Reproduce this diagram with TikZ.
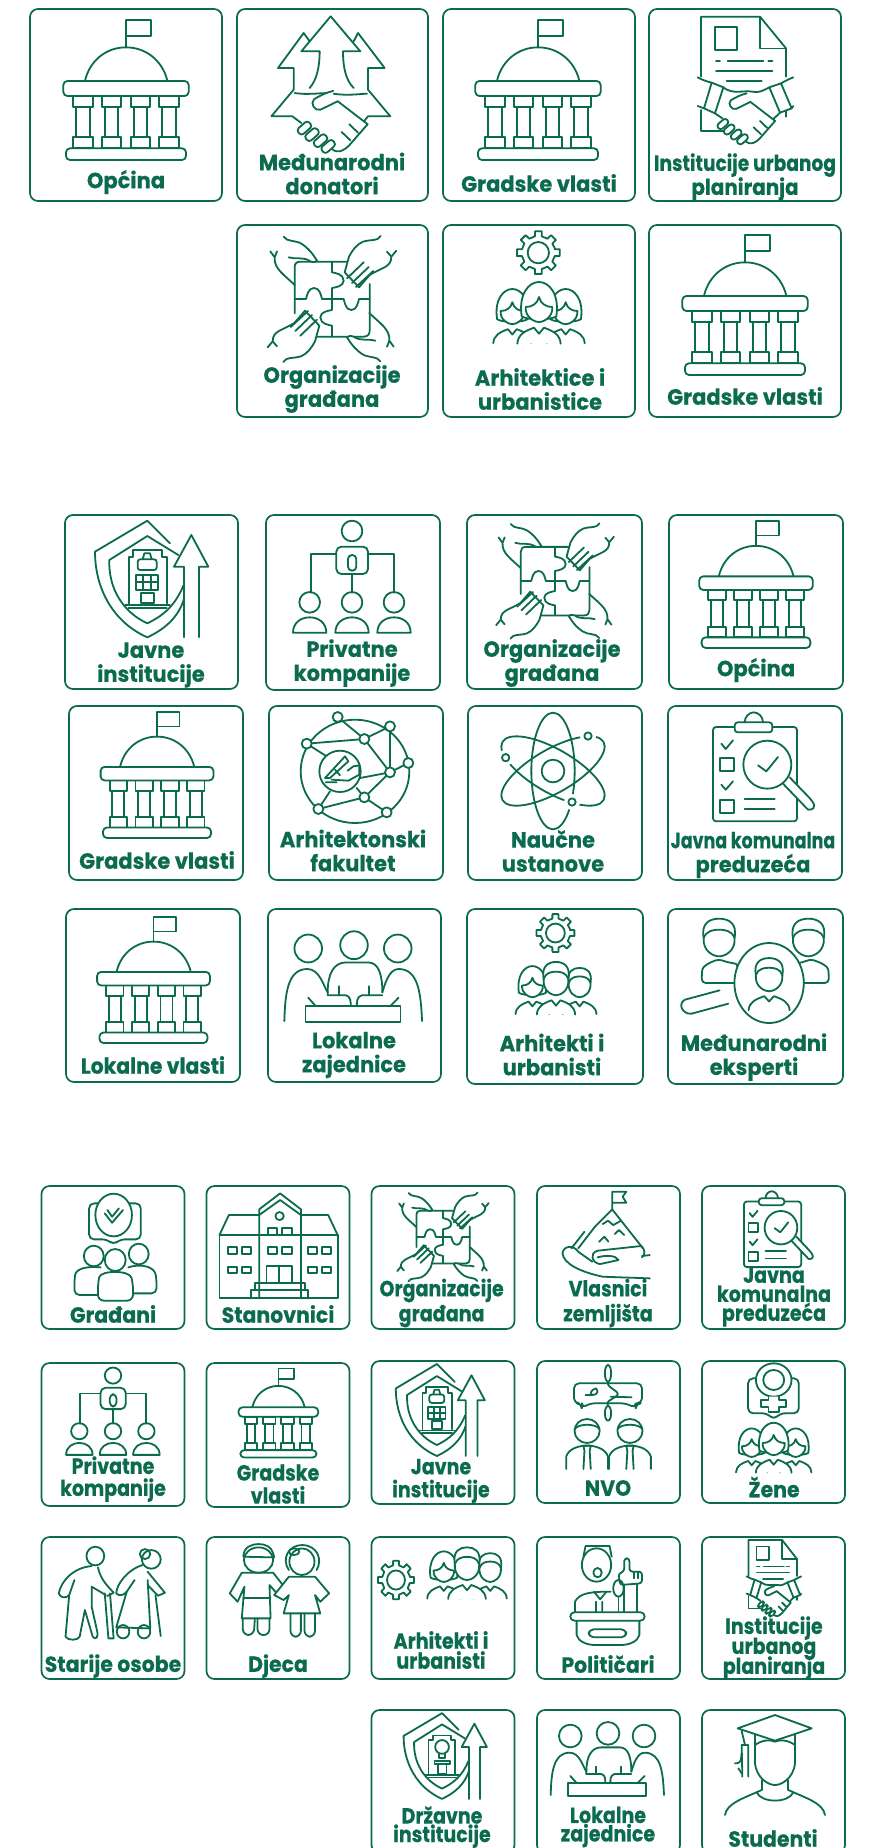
\documentclass[tikz,border=0pt]{standalone}
\usepackage{fontspec}
\setmainfont{Poppins}[BoldFeatures={FakeBold=0.4}]
\definecolor{brand}{HTML}{0A6B4E}
\newcommand\tightlines{\lineskiplimit=-100pt\relax\lineskip=0pt\relax}
\tikzset{
  cardbox/.style={draw=brand,fill=white,line width=1.7pt,rounded corners=8pt,inner sep=0pt,outer sep=0pt},
  lbl/.style={text=brand,align=center,inner sep=0pt,transform shape,font=\bfseries\fontsize{22}{24}\selectfont\tightlines,xscale=.955,yshift=-2pt},
  lblc/.style={text=brand,align=center,inner sep=0pt,transform shape,font=\bfseries\fontsize{22}{24}\selectfont\tightlines,xscale=.93,yshift=-2pt},
  lbld/.style={text=brand,align=center,inner sep=0pt,transform shape,font=\bfseries\fontsize{22}{#1}\selectfont\tightlines,xscale=.865,yshift=-1pt}
}
\newcommand\cardat[5]{\node[cardbox,minimum width={(#4-#2)*1pt},minimum height={(#5-#3)*1pt}] (#1) at ({(#2+#4)/2},{(#3+#5)/2}) {};}
\newcommand\ico[5]{\begin{scope}[shift={(#2,#3)},xscale=#4,yscale=#5]#1\end{scope}}
\newcommand\lab[5][]{\node[#2,#1] (#3) at (#4) {#5};}
% ---------- government building
\newcommand\domeicon{%
  \draw (0,-130)--(0,-210) (0,-210) rectangle (75,-162);
  \draw (-123,-28) .. controls (-108,-90) and (-58,-128) .. (0,-128) .. controls (58,-128) and (109,-90) .. (124,-28);
  \draw[rounded corners=4pt] (-188,-27) rectangle (188,18);
  \foreach \cx in {-129,-43,43,129}{
    \draw (\cx-29,18) rectangle (\cx+29,52);
    \draw (\cx-20,52)--(\cx-20,140) (\cx+20,52)--(\cx+20,140);
    \draw (\cx-29,140) rectangle (\cx+29,175);
  }
  \draw[rounded corners=4pt] (-180,175) rectangle (180,210);
}
% ---------- handshake
\newcommand\handshake{%
  \draw[fill=white] (3,-82) .. controls (-15,-78) and (-35,-68) .. (-47,-60) .. controls (-58,-50) and (-45,-28) .. (-30,-33) -- (15,-55) -- (93,5) -- (45,60) .. controls (30,75) and (15,82) .. (0,70);
  \draw (45,5)--(68,27) (25,25)--(48,47);
  \foreach \px/\py in {-72/15,-52/32,-30/48,-10/63}{
    \draw[fill=white,rounded corners=3pt] (\px+21,\py-5)--(\px+8,\py-20)--(\px-21,\py+5)--(\px-8,\py+20)--cycle;
  }
}
\newcommand\donoricon{%
  \draw (-67,15) .. controls (-45,-10) and (-37,-50) .. (-37,-95) -- (-92,-95) -- (-4,-200) -- (85,-95) -- (33,-95) .. controls (33,-50) and (40,-10) .. (65,15);
  \draw (-67,-125) -- (-85,-150) -- (-162,-45) -- (-115,-45) -- (-115,20) -- (-182,100) -- (-119,100) -- (-92,120);
  \draw (65,-125) -- (78,-150) -- (158,-45) -- (108,-45) -- (108,20) -- (175,100) -- (108,100) -- (91,122);
  \draw (-112,30) .. controls (-60,38) and (-20,25) .. (10,33) .. controls (50,38) and (80,33) .. (105,32);
  \begin{scope}[shift={(0,118)},scale=1.15]\handshake\end{scope}
}
\newcommand\dochandicon{%
  \draw (-129,-10) -- (-129,-190) -- (48,-190) -- (126,-95) -- (126,-10);
  \draw[line width=1.5pt] (48,-190)--(48,-95)--(126,-95);
  \draw (-87,-158) rectangle (-20,-90);
  \draw (-84,-58)--(-72,-58) (-49,-58)--(58,-58) (73,-58)--(85,-58) (-84,-28)--(85,-28) (-52,3)--(53,3);
  \draw (-129,90)--(-129,152)--(-60,152) (126,90)--(126,110);
  \draw (-139,-8) .. controls (-125,0) and (-110,5) .. (-97,8) (148,-8) .. controls (135,-3) and (120,5) .. (111,10);
  \draw (-62,22) .. controls (-35,45) and (0,30) .. (25,35) .. controls (45,40) and (60,30) .. (76,22);
  \draw (-139,78)--(-120,85) (-87,100)--(-65,115) (148,78)--(143,85) (108,98)--(85,120);
  \draw[fill=white] (-97,8)--(-62,22)--(-87,100)--(-120,85)--cycle;
  \draw[fill=white] (76,22)--(111,10)--(143,85)--(108,98)--cycle;
  \begin{scope}[shift={(5,118)},scale=.95]\handshake\end{scope}
}
% ---------- puzzle
\newcommand\puzzlehands{%
  \draw[fill=white] (146,-189) .. controls (135,-172) and (120,-180) .. (93,-172) .. controls (75,-165) and (60,-145) .. (51,-127) -- (38,-80) -- (81,-35) -- (113,-72) .. controls (150,-95) and (178,-95) .. (178,-127) -- (193,-145);
  \draw (178,-127)--(165,-142);
  \draw (45,-62)--(95,-110) (60,-48)--(110,-96) (72,-36)--(124,-84);
  \draw[fill=white] (-145,-187) .. controls (-135,-170) and (-110,-178) .. (-90,-165) .. controls (-75,-155) and (-60,-140) .. (-45,-115) .. controls (-50,-110) and (-55,-110) .. (-65,-113) .. controls (-85,-128) and (-110,-118) .. (-130,-125);
  \draw (-185,-143) -- (-172,-125) .. controls (-175,-90) and (-140,-70) .. (-112,-42) (-172,-125)--(-165,-143);
}
\newcommand\puzzleicon{%
  \draw (53,-112) -- (-95,-112) .. controls (-108,-112) and (-112,-105) .. (-112,-95) -- (-112,43);
  \draw (-53,113) -- (95,113) .. controls (108,113) and (113,105) .. (113,95) -- (113,-45);
  \draw (0,-112)--(0,-80) .. controls (10,-78) and (35,-75) .. (35,-55) .. controls (35,-38) and (10,-35) .. (0,-33) -- (0,33) .. controls (-10,35) and (-35,38) .. (-35,55) .. controls (-35,75) and (-10,78) .. (0,80) -- (0,113);
  \draw (-112,0) -- (-78,0) .. controls (-75,-10) and (-72,-33) .. (-54,-33) .. controls (-36,-33) and (-33,-10) .. (-30,0) -- (35,0) .. controls (38,10) and (41,33) .. (58,33) .. controls (75,33) and (78,10) .. (81,0) -- (113,0);
  \puzzlehands
  \begin{scope}[scale=-1]\puzzlehands\end{scope}
}
% ---------- people
\newcommand\gearicon{%
  \draw (0,0) circle [radius=32];
  \draw (-12:52) \foreach \a in {0,45,...,315}{ -- (\a-12:50) -- (\a-9:65) -- (\a+9:65) -- (\a+12:50) } -- cycle;
}
\newcommand\bodyshape{%
  \draw[fill=white] (-65,110) .. controls (-63,82) and (-42,72) .. (-15,62) -- (0,80) -- (15,62) .. controls (42,72) and (63,82) .. (65,110);
}
\newcommand\wbust{%
  \bodyshape
  \draw[fill=white] (-52,28) .. controls (-62,-40) and (-30,-75) .. (0,-75) .. controls (30,-75) and (62,-40) .. (52,28) .. controls (35,40) and (-35,40) .. (-52,28);
  \draw[fill=white] (-40,0) .. controls (-42,30) and (-15,45) .. (0,45) .. controls (15,45) and (42,30) .. (40,0) .. controls (20,0) and (5,-10) .. (0,-30) .. controls (-5,-10) and (-20,0) .. (-40,0);
}
\newcommand\mhead{%
  \draw[fill=white] (-42,-10) .. controls (-50,-55) and (-25,-68) .. (0,-68) .. controls (25,-68) and (50,-55) .. (42,-10) .. controls (45,30) and (15,45) .. (0,45) .. controls (-15,45) and (-45,30) .. (-42,-10);
  \draw (-42,-10) .. controls (-35,-32) and (-15,-35) .. (0,-35) .. controls (15,-35) and (35,-32) .. (42,-10);
}
\newcommand\mbust{\bodyshape\mhead}
\newcommand\womengroup{%
  \begin{scope}[shift={(-80,12)},scale=.88]\wbust\end{scope}
  \begin{scope}[shift={(80,12)},scale=.88]\wbust\end{scope}
  \wbust
}
\newcommand\mengroup{%
  \begin{scope}[shift={(-80,12)},scale=.88]\wbust\end{scope}
  \begin{scope}[shift={(80,12)},scale=.88]\mbust\end{scope}
  \mbust
}
\newcommand\womengearicon{\begin{scope}[shift={(-2,-163)}]\gearicon\end{scope}\womengroup}
\newcommand\mengearicon{\begin{scope}[shift={(-2,-166)}]\gearicon\end{scope}\mengroup}
% ---------- shield
\newcommand\shieldbase{%
  \draw (60,-107) -- (-8,-175) (-8,-175) -- (-165,-82) .. controls (-165,30) and (-110,130) .. (-8,175) .. controls (45,150) and (85,115) .. (102,60);
  \draw (85,-72) -- (-8,-129) -- (-122,-57) .. controls (-125,30) and (-80,100) .. (-8,133) .. controls (40,110) and (75,80) .. (100,20);
  \draw[fill=white] (102,175) -- (102,-37) -- (72,-37) -- (124,-132) -- (175,-37) -- (147,-37) -- (147,175);
  \draw[line width=1.4pt] (-75,78)--(60,78);
  \draw (-65,88)--(50,88);
}
\newcommand\shieldbuilding{%
  \shieldbase
  \draw (-63,73) -- (-63,-65) -- (-50,-65) -- (-50,-87) -- (35,-87) -- (35,-65) -- (50,-65) -- (50,73);
  \draw[rounded corners=2.5pt] (-37,-59) rectangle (20,-27);
  \draw (-22,-59) -- (-17,-77) -- (0,-77) -- (5,-59);
  \draw (-42,-12) rectangle (25,33) (-20,-12)--(-20,33) (3,-12)--(3,33) (-42,10)--(25,10);
  \draw (-28,43) rectangle (12,73);
}
\newcommand\shieldbulb{%
  \shieldbase
  \draw (-63,75) -- (-63,-65) -- (-45,-65) -- (-45,-84) -- (28,-84) -- (28,-65) -- (46,-65) -- (46,75);
  \draw (-8,-37) circle [radius=28];
  \draw (-20,-10)--(-20,8)--(4,8)--(4,-10);
  \draw (-39,20) rectangle (26,34) (-26,34) rectangle (10,75);
}
% ---------- org chart
\newcommand\orgicon{%
  \draw (0,-144) circle [radius=31];
  \draw[rounded corners=5pt] (-47,-97) rectangle (48,-15);
  \draw[rounded corners=4pt] (-12,-72) rectangle (13,-25);
  \draw (-47,-75)--(-124,-75)--(-124,41) (48,-75)--(126,-75)--(126,41) (0,-15)--(0,41);
  \foreach \px in {-127,0,126}{
    \draw (\px,70) circle [radius=31];
    \draw (\px-50,161) .. controls (\px-50,130) and (\px-25,115) .. (\px,115) .. controls (\px+25,115) and (\px+50,130) .. (\px+50,161) -- cycle;
  }
}
% ---------- network
\newcommand\neticon{%
  \draw (0,10) ellipse [x radius=163,y radius=155];
  \draw (-52,-153)--(28,-87)--(105,-125) (-145,-73)--(28,-87) (105,-125)--(105,13) (28,-87)--(105,13) (105,13)--(160,-15) (105,13)--(15,30) (-145,-73)--(-85,-35) (-110,123)--(-75,70) (-110,123)--(28,88) (28,88)--(95,133) (28,88)--(5,60) (28,88)--(105,13);
  \draw[fill=white] (-45,10) circle [radius=62];
  \foreach \px/\py in {-52/-153,105/-125,28/-87,-145/-73,160/-15,105/13,28/88,-110/123,95/133}{
    \draw[fill=white] (\px,\py) circle [radius=15];
  }
  \draw (-90,30) -- (-30,-35) -- (-20,-20) -- (-75,30) -- cycle;
  \draw (-70,35) -- (-20,38) -- (13,20) -- (13,-8) -- (-5,-5) -- (-22,8);
  \draw (-60,5)--(-45,22) (-88,43)--(-55,43);
}
% ---------- atom
\newcommand\atomicon{%
  \draw (0,0) ellipse [x radius=65,y radius=175];
  \draw[rotate=30] (0,0) ellipse [x radius=175,y radius=65];
  \draw[rotate=-30] (0,0) ellipse [x radius=175,y radius=65];
  \draw (0,0) circle [radius=34];
  \foreach \px/\py in {105/-105,-142/-40,57/93}{
    \fill[white] (\px,\py) circle [radius=24];
    \draw (\px,\py) circle [radius=11];
  }
}
% ---------- clipboard
\newcommand\clipicon{%
  \draw[rounded corners=3pt] (-150,-123) rectangle (102,160);
  \draw[fill=white,rounded corners=3pt] (-85,-137) rectangle (28,-107);
  \draw (-55,-137) .. controls (-55,-155) and (-40,-167) .. (-28,-167) .. controls (-15,-167) and (0,-155) .. (0,-137);
  \draw (-125,-73)--(-112,-57)--(-90,-83) (-125,50)--(-112,65)--(-90,40);
  \draw (-130,-30) rectangle (-87,10) (-130,95) rectangle (-87,135);
  \draw (-55,92)--(35,92) (-55,123)--(35,123);
  \draw[fill=white] (80,28) -- (135,85) .. controls (155,105) and (165,125) .. (135,125) -- (60,47);
  \draw[fill=white] (13,-10) circle [radius=72];
  \draw (-15,-8)--(10,10)--(45,-33);
}
% ---------- meeting table
\newcommand\tableicon{%
  \draw (-113,-72) circle [radius=34] (0,-80) circle [radius=34] (108,-72) circle [radius=34];
  \draw (-172,105) .. controls (-170,40) and (-165,-22) .. (-115,-22) .. controls (-85,-22) and (-75,20) .. (-65,35) -- (-65,42);
  \draw (168,105) .. controls (165,40) and (160,-22) .. (110,-22) .. controls (85,-22) and (75,20) .. (70,35);
  \draw (-65,35) .. controls (-65,-10) and (-50,-38) .. (-20,-38) -- (35,-38) .. controls (60,-38) and (70,-10) .. (70,35);
  \draw (-113,48)--(-95,68) (110,48)--(90,68);
  \draw (-65,42)--(-20,42) .. controls (-8,45) and (-8,58) .. (-8,68);
  \draw (70,42)--(20,42) .. controls (7,45) and (7,58) .. (7,68);
  \draw (-37,20)--(-37,42) (38,20)--(38,42);
  \draw (-120,68) rectangle (115,107);
}
% ---------- experts (raw scale of the second group)
\newcommand\experticon{\begin{scope}[shift={(-1400,-205)}]
  \draw[fill=white,rounded corners=4pt] (1278,250) -- (1278,222) .. controls (1280,198) and (1295,188) .. (1312,178) .. controls (1330,190) and (1345,190) .. (1350,205) -- (1350,250) -- cycle;
  \draw[fill=white,rounded corners=4pt] (1527,250) -- (1527,222) .. controls (1525,198) and (1510,188) .. (1490,178) .. controls (1475,190) and (1460,190) .. (1455,205) -- (1455,250) -- cycle;
  \begin{scope}[shift={(1312,125)},xscale=.72,yscale=1]\mhead\end{scope}
  \begin{scope}[shift={(1487,125)},xscale=.72,yscale=1]\mhead\end{scope}
  \draw[fill=white] (1313,272)--(1245,300) .. controls (1230,312) and (1240,345) .. (1258,342) -- (1330,312);
  \draw[fill=white] (1410,250) ellipse [x radius=68,y radius=120];
  \begin{scope}[shift={(1410,235)},xscale=.62,yscale=.88]\mbust\end{scope}
\end{scope}}
% ---------- third-group icons (raw zoom coordinates)
\newcommand\citizenicon{\begin{scope}[shift={(-158,-200)}]
  \draw[rounded corners=5pt] (113,70) -- (113,178) -- (148,178) -- (160,195) -- (172,178) -- (212,178) -- (212,70) -- cycle;
  \draw[fill=white] (160,105) ellipse [x radius=35,y radius=64];
  \draw (143,100)--(157,128)--(178,90) (148,90)--(157,110)--(170,85);
  \draw[rounded corners=5pt] (130,345) -- (85,345) -- (85,300) .. controls (88,265) and (110,258) .. (135,262);
  \draw[rounded corners=5pt] (197,340) -- (242,340) -- (242,300) .. controls (238,258) and (210,250) .. (188,262);
  \draw[fill=white] (122,228) ellipse [x radius=19,y radius=31];
  \draw[fill=white] (208,222) ellipse [x radius=19,y radius=31];
  \draw[fill=white,rounded corners=6pt] (130,362) -- (130,310) .. controls (135,270) and (190,270) .. (197,310) -- (197,362) -- cycle;
  \draw[fill=white] (163,240) ellipse [x radius=20,y radius=33];
\end{scope}}
\newcommand\schoolicon{\begin{scope}[shift={(-474,-200)}]
  \draw (362,355) rectangle (588,165);
  \draw (362,165)--(380,105)--(438,105) (518,105)--(570,105)--(588,165);
  \draw (438,355)--(438,88)--(478,40)--(518,88)--(518,355) (438,105)--(478,60)--(518,105);
  \draw (477,108) ellipse [x radius=8,y radius=12];
  \foreach \xa/\xb/\ya/\yb in {455/472/145/165,482/500/145/165,378/395/200/222,405/422/200/222,455/472/200/222,482/500/200/222,532/548/200/222,558/575/200/222,378/395/260/280,405/422/260/280,532/548/260/280,558/575/260/280}{
    \draw (\xa,\ya) rectangle (\xb,\yb);
  }
  \draw (452,308)--(452,258)--(500,258)--(500,308) (476,258)--(476,308);
  \draw (430,330)--(430,308)--(525,308)--(525,330);
  \draw (422,355)--(422,330)--(532,330)--(532,355);
\end{scope}}
\newcommand\landicon{\begin{scope}[shift={(-1105,-200)}]
  \draw (1113,88)--(1113,35)--(1140,35)--(1133,50)--(1140,68)--(1113,68);
  \draw (1113,88)--(1172,205);
  \draw (1113,88)--(1080,140)--(1048,205) (1060,155)--(1035,205);
  \draw (1095,132)--(1105,122)--(1115,135)--(1130,122);
  \draw (1088,185)--(1098,170)--(1106,185) (1118,162)--(1126,150)--(1136,165);
  \draw (1185,295)--(1095,290) .. controls (1050,275) and (1020,250) .. (1018,220) .. controls (1020,195) and (1040,195) .. (1048,215) -- (1075,245);
  \draw (1085,212) -- (1168,198) .. controls (1178,210) and (1175,225) .. (1170,232);
  \draw (1085,212) .. controls (1068,220) and (1075,250) .. (1090,252) -- (1125,240) .. controls (1120,225) and (1100,225) .. (1085,232);
  \draw (1170,228)--(1185,225);
\end{scope}}
\newcommand\nvoicon{\begin{scope}[shift={(-1105,-190)}]
  \draw[rounded corners=5pt] (1055,160) -- (1055,145) -- (1040,145) -- (1040,85) -- (1170,85) -- (1170,145) -- (1158,145) -- (1158,160) -- (1140,145) -- (1070,145) -- cycle;
  \draw[fill=white] (1105,55) ellipse [x radius=6,y radius=25];
  \draw[fill=white] (1105,175) ellipse [x radius=6,y radius=22];
  \draw (1105,80) .. controls (1100,100) and (1135,110) .. (1120,125) .. controls (1110,135) and (1100,140) .. (1105,152);
  \draw (1062,120) .. controls (1080,122) and (1090,118) .. (1082,100) .. controls (1072,105) and (1070,115) .. (1075,120);
  \draw (1110,125)--(1150,127);
  \foreach \px in {1065,1147}{
    \draw (\px-40,342) -- (\px-40,305) .. controls (\px-35,280) and (\px-15,272) .. (\px,272) .. controls (\px+15,272) and (\px+35,280) .. (\px+40,305) -- (\px+40,342);
    \draw (\px-7,272)--(\px+7,272)--(\px+5,288)--(\px+7,342) (\px-7,272)--(\px-5,288)--(\px-7,342);
    \draw[fill=white] (\px,228) ellipse [x radius=24,y radius=36];
    \draw (\px-24,222) .. controls (\px-15,205) and (\px+15,205) .. (\px+24,222);
  }
\end{scope}}
\newcommand\femaleicon{\begin{scope}[shift={(-1422,-130)}]
  \draw[rounded corners=5pt] (1373,70) -- (1373,175) -- (1410,175) -- (1422,195) -- (1434,175) -- (1470,175) -- (1470,70) -- cycle;
  \draw[fill=white] (1422,75) ellipse [x radius=34,y radius=50];
  \draw (1422,75) ellipse [x radius=20,y radius=30];
  \draw[fill=white] (1412,125)--(1412,135)--(1398,135)--(1398,155)--(1412,155)--(1412,172)--(1432,172)--(1432,155)--(1446,155)--(1446,135)--(1432,135)--(1432,125);
\end{scope}}
\newcommand\eldericon{\begin{scope}[shift={(-158,-170)}]
  \draw (125,78) ellipse [x radius=17,y radius=28];
  \draw (118,108) .. controls (85,112) and (60,150) .. (55,190) .. controls (58,205) and (70,205) .. (75,195) -- (68,320) .. controls (72,332) and (92,332) .. (95,320) -- (105,240) -- (120,320) .. controls (125,330) and (132,325) .. (128,300) -- (118,230) -- (118,170) -- (145,195);
  \draw (130,112) .. controls (135,150) and (150,170) .. (160,188) -- (148,198);
  \draw (75,195) -- (85,150);
  \draw (143,190) -- (150,325) -- (160,325) -- (153,190);
  \draw (232,88) ellipse [x radius=18,y radius=28];
  \draw (220,72) ellipse [x radius=10,y radius=15];
  \draw (215,105) .. controls (185,120) and (165,165) .. (165,190) .. controls (170,200) and (180,195) .. (185,185) -- (200,150);
  \draw (185,185) -- (165,292) -- (230,295) -- (225,150);
  \draw (225,125) -- (258,188) -- (245,197) -- (225,165);
  \draw (240,195) -- (250,318);
  \draw (178,305) ellipse [x radius=12,y radius=20] (218,305) ellipse [x radius=12,y radius=20];
\end{scope}}
\newcommand\kidsicon{\begin{scope}[shift={(-475,-170)}]
  \draw (437,90) ellipse [x radius=28,y radius=38];
  \draw (408,80) .. controls (408,50) and (425,42) .. (437,42) .. controls (450,42) and (462,50) .. (465,70) -- (467,82) -- (408,80);
  \draw (405,128) -- (465,128) -- (490,178) -- (475,195) -- (458,165) -- (460,265) -- (405,265) -- (410,170) -- (397,215) -- (382,190) -- cycle;
  \draw (408,205)--(460,205);
  \draw[rounded corners=6pt] (407,265) -- (407,315) -- (428,315) -- (430,265);
  \draw[rounded corners=6pt] (435,265) -- (435,315) -- (458,315) -- (458,265);
  \draw (520,95) ellipse [x radius=24,y radius=40];
  \draw (495,120) .. controls (480,85) and (495,45) .. (520,45) .. controls (550,45) and (560,90) .. (548,120);
  \draw (505,65) circle [radius=10];
  \draw[fill=white] (495,140) -- (545,140) -- (572,190) -- (555,215) -- (545,195) -- (555,250) -- (485,250) -- (495,195) -- (485,210) -- (467,195) -- cycle;
  \draw[rounded corners=6pt] (498,250) -- (498,320) -- (518,320) -- (518,250);
  \draw[rounded corners=6pt] (525,250) -- (525,320) -- (545,320) -- (545,250);
\end{scope}}
\newcommand\speakericon{\begin{scope}[shift={(-1105,-190)}]
  \draw (1083,105) ellipse [x radius=28,y radius=50];
  \draw (1058,80) -- (1062,48) -- (1108,48) -- (1112,80);
  \draw (1085,128) ellipse [x radius=8,y radius=14];
  \draw (1042,247) -- (1042,215) .. controls (1050,190) and (1070,185) .. (1110,185);
  \draw (1078,185)--(1090,208)--(1102,185) (1082,215)--(1082,247) (1094,215)--(1094,247);
  \draw (1125,175) ellipse [x radius=10,y radius=25];
  \draw (1125,200)--(1125,247);
  \draw[rounded corners=3pt] (1136,125) -- (1136,85) -- (1146,85) -- (1146,125) -- (1170,125) -- (1170,160) -- (1128,165) -- (1125,130) -- cycle;
  \draw (1155,125)--(1155,145) (1162,125)--(1162,145);
  \draw (1136,165)--(1136,247) (1160,162)--(1160,247);
  \draw[fill=white,rounded corners=4pt] (1033,247) rectangle (1175,272);
  \draw (1045,272) -- (1045,315) .. controls (1048,335) and (1065,345) .. (1080,345) -- (1130,345) .. controls (1145,345) and (1162,335) .. (1165,315) -- (1165,272);
  \draw[rounded corners=5pt] (1068,298) rectangle (1140,322);
\end{scope}}
\newcommand\studenticon{\begin{scope}[shift={(-1245,-195)}]
  \draw (1185,100) -- (1185,190) .. controls (1190,235) and (1225,255) .. (1245,255) .. controls (1265,255) and (1300,235) .. (1305,190) -- (1305,100);
  \draw (1185,135) .. controls (1205,120) and (1230,118) .. (1245,125) .. controls (1260,118) and (1285,120) .. (1305,135);
  \draw[fill=white] (1133,85) -- (1245,45) -- (1355,85) -- (1245,122) -- cycle;
  \draw (1145,93) -- (1155,135);
  \draw (1147,230) -- (1145,135) -- (1165,135) -- (1165,230);
  \draw (1145,160) .. controls (1142,180) and (1145,190) .. (1125,190);
  \draw (1135,205) -- (1145,220);
  \draw (1205,240)--(1205,270) (1285,240)--(1285,270);
  \draw (1095,345) .. controls (1100,310) and (1150,295) .. (1205,270) (1285,270) .. controls (1340,295) and (1390,310) .. (1395,345);
  \draw (1190,277) .. controls (1205,310) and (1285,310) .. (1300,277);
\end{scope}}
\begin{document}
\begin{tikzpicture}[x=1pt,y=-1pt,color=brand,line width=1.8pt,line cap=round,line join=round]
\fill[white] (0,0) rectangle (868,1848);
\useasboundingbox (0,0) rectangle (868,1848);
% cards, group 1
\cardat{a1}{30}{9}{222}{201}\cardat{a2}{237}{9}{428}{201}\cardat{a3}{443}{9}{635}{201}\cardat{a4}{649}{9}{841}{201}
\cardat{a5}{237}{225}{428}{417}\cardat{a6}{443}{225}{635}{417}\cardat{a7}{649}{225}{841}{417}
% cards, group 2
\cardat{b1}{65}{515}{238}{689}\cardat{b2}{266}{515}{440}{690}\cardat{b3}{467}{515}{642}{689}\cardat{b4}{669}{515}{843}{689}
\cardat{b5}{69}{706}{243}{880}\cardat{b6}{269}{706}{443}{880}\cardat{b7}{468}{706}{642}{880}\cardat{b8}{668}{706}{842}{880}
\cardat{b9}{66}{909}{240}{1082}\cardat{b10}{268}{909}{441}{1082}\cardat{b11}{467}{909}{643}{1084}\cardat{b12}{668}{909}{843}{1084}
% cards, group 3
\cardat{c1}{41.5}{1186}{184.5}{1329}\cardat{c2}{206.5}{1186}{349.5}{1329}\cardat{c3}{371.5}{1186}{514.5}{1329}\cardat{c4}{537}{1186}{680}{1329}\cardat{c5}{702}{1186}{845}{1329}
\cardat{c6}{41.5}{1363}{184.5}{1506}\cardat{c7}{206.5}{1363}{349.5}{1507}\cardat{c8}{371.5}{1361}{514.5}{1504}\cardat{c9}{537}{1361}{680}{1503}\cardat{c10}{702}{1361}{845}{1503}
\cardat{c11}{41.5}{1537}{184.5}{1679}\cardat{c12}{206.5}{1537}{349.5}{1679}\cardat{c13}{371.5}{1537}{514.5}{1679}\cardat{c14}{537}{1537}{680}{1679}\cardat{c15}{702}{1537}{845}{1679}
\cardat{c16}{371.5}{1710}{514.5}{1853}\cardat{c17}{537}{1710}{680}{1853}\cardat{c18}{702}{1710}{845}{1853}
% icons, group 1
\ico{\domeicon}{126}{90}{.3333}{.3333}
\ico{\donoricon}{332}{83}{.3333}{.3333}
\ico{\domeicon}{538}{90}{.3333}{.3333}
\ico{\dochandicon}{744}{80}{.3333}{.3333}
\ico{\puzzleicon}{332}{299}{.3333}{.3333}
\ico{\womengearicon}{539}{307}{.3333}{.3333}
\ico{\domeicon}{745}{305}{.3333}{.3333}
% icons, group 2
\ico{\shieldbuilding}{150}{579}{.3333}{.3333}
\ico{\orgicon}{352}{579}{.3333}{.3333}
\ico{\puzzleicon}{555}{581}{.305}{.305}
\ico{\domeicon}{756}{584.5}{.302}{.302}
\ico{\domeicon}{157}{775}{.30}{.30}
\ico{\neticon}{355}{768}{.3333}{.3333}
\ico{\atomicon}{553}{771}{.3333}{.3333}
\ico{\clipicon}{763}{768}{.3333}{.3333}
\ico{\domeicon}{153.5}{980}{.30}{.30}
\ico{\tableicon}{354}{978}{.405}{.41}
\ico{\mengearicon}{556}{982}{.295}{.295}
\ico{\experticon}{764}{968}{.51}{.3333}
% icons, group 3
\ico{\citizenicon}{112.6}{1246.7}{.523}{.3333}
\ico{\schoolicon}{278}{1246.7}{.523}{.3333}
\ico{\puzzleicon}{443}{1237}{.237}{.235}
\ico{\landicon}{608}{1246.7}{.523}{.3333}
\ico{\clipicon}{778}{1230}{.227}{.232}
\ico{\orgicon}{113}{1413}{.265}{.26}
\ico{\domeicon}{278.4}{1413}{.212}{.212}
\ico{\shieldbuilding}{439}{1410}{.262}{.263}
\ico{\nvoicon}{608}{1418.3}{.523}{.3333}
\ico{\femaleicon}{773.7}{1398.3}{.523}{.3333}
\ico{\womengroup}{773.7}{1443}{.275}{.27}
\ico{\eldericon}{112.6}{1586.7}{.523}{.3333}
\ico{\kidsicon}{278.4}{1586.7}{.523}{.3333}
\ico{\gearicon}{396}{1580}{.28}{.30}
\ico{\mengroup}{467}{1567}{.29}{.29}
\ico{\speakericon}{608}{1593.3}{.523}{.3333}
\ico{\dochandicon}{773}{1578}{.19}{.20}
\ico{\shieldbulb}{444}{1756}{.245}{.245}
\ico{\tableicon}{608}{1760}{.3333}{.3333}
\ico{\studenticon}{775}{1765}{.3333}{.3333}
% labels, group 1
\lab{lbl}{la1}{126,180}{Općina}
\lab{lbl}{la2}{332,171.5}{Međunarodni\\donatori}
\lab{lbl}{la3}{539,181}{Gradske vlasti}
\lab{lbl}{la4}{745,175}{\scalebox{.885}[1]{Institucije urbanog}\\\scalebox{.95}[1]{planiranja}}
\lab{lbl}{la5}{332,387}{Organizacije\\građana}
\lab{lbl}{la6}{540,387}{Arhitektice i\\urbanistice}
\lab{lbl}{la7}{745,394}{Gradske vlasti}
% labels, group 2
\lab{lbl}{lb1}{151,663}{Javne\\institucije}
\lab{lbl}{lb2}{352,661}{Privatne\\kompanije}
\lab{lbl}{lb3}{552,661}{Organizacije\\građana}
\lab{lbl}{lb4}{756,668}{Općina}
\lab{lbl}{lb5}{157,858}{Gradske vlasti}
\lab{lbl}{lb6}{353,848.5}{Arhitektonski\\fakultet}
\lab{lbl}{lb7}{553,849}{Naučne\\ustanove}
\lab{lbl}{lb8}{753,853}{\scalebox{.83}[1]{Javna komunalna}\\preduzeća}
\lab[xscale=.97]{lbl}{lb9}{153,1063}{Lokalne vlasti}
\lab{lbl}{lb10}{354,1053}{Lokalne\\zajednice}
\lab{lbl}{lb11}{552,1052.5}{Arhitekti i\\urbanisti}
\lab{lbl}{lb12}{754,1055}{Međunarodni\\eksperti}
% labels, group 3
\lab{lblc}{lc1}{113,1312}{Građani}
\lab{lblc}{lc2}{278,1312}{Stanovnici}
\lab{lbld=25}{lc3}{441.6,1302}{Organizacije\\građana}
\lab{lbld=25}{lc4}{608,1302}{Vlasnici\\zemljišta}
\lab{lbld=19}{lc5}{774,1296}{Javna\\komunalna\\preduzeća}
\lab{lbld=22}{lc6}{113,1478}{Privatne\\kompanije}
\lab{lbld=23}{lc7}{278,1483}{Gradske\\vlasti}
\lab{lbld=23}{lc8}{441,1480}{Javne\\institucije}
\lab{lblc}{lc9}{608,1486}{NVO}
\lab{lblc}{lc10}{774,1485}{Žene}
\lab{lblc}{lc11}{113,1664}{Starije osobe}
\lab{lblc}{lc12}{278,1664}{Djeca}
\lab{lbld=20}{lc13}{441,1649}{Arhitekti i\\urbanisti}
\lab{lblc}{lc14}{608,1662}{Političari}
\lab{lbld=20}{lc15}{774,1647}{Institucije\\urbanog\\planiranja}
\lab{lbld=18.5}{lc16}{442,1826}{Državne\\institucije}
\lab{lbld=18.5}{lc17}{608,1826}{Lokalne\\zajednice}
\lab{lblc}{lc18}{773,1836}{Studenti}
\end{tikzpicture}
\end{document}
